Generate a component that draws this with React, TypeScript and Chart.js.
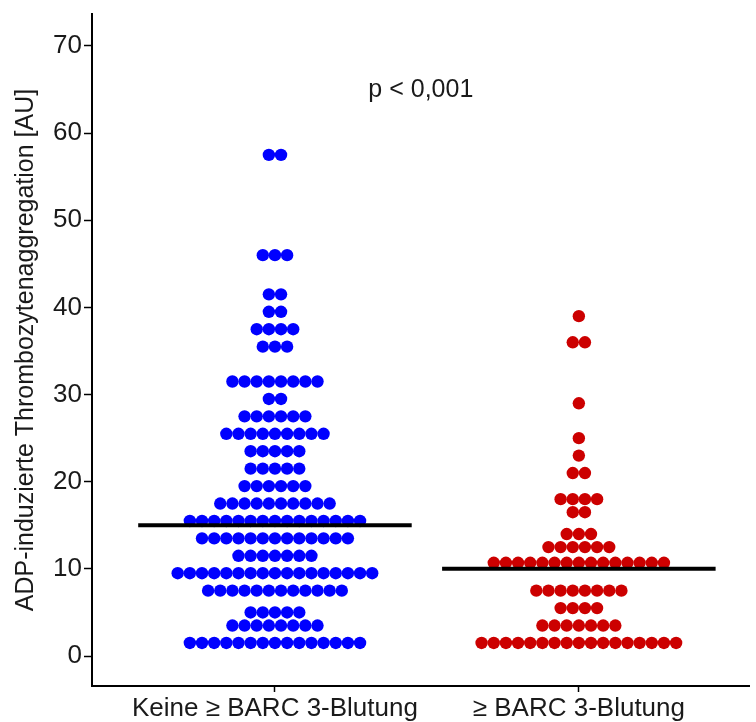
import React, { useEffect, useRef } from "react";
import { Chart, registerables } from "chart.js";

Chart.register(...registerables);

// ---- data ----
const categories = ["Keine ≥ BARC 3-Blutung", "≥ BARC 3-Blutung"];

const blueLevels = [57.5, 46, 41.5, 39.5, 37.5, 35.5, 31.5, 29.5, 27.5, 25.5, 23.5, 21.5, 19.5, 17.5, 15.5, 13.5, 11.5, 9.5, 7.5, 5, 3.5, 1.5];
const blueCounts = [2, 3, 2, 2, 4, 3, 8, 2, 6, 9, 5, 5, 6, 10, 15, 13, 7, 17, 12, 5, 8, 15];

const redLevels = [39, 36, 29, 25, 23, 21, 18, 16.5, 14, 12.5, 10.7, 7.5, 5.5, 3.5, 1.5];
const redCounts = [1, 2, 1, 1, 1, 2, 4, 2, 3, 6, 15, 8, 4, 7, 17];

const medians = [15, 10];
const yTicks = [0, 10, 20, 30, 40, 50, 60, 70];
const pLabel = "p < 0,001";

// ---- layout / style constants ----
const DOT_STEP = 0.04; // horizontal spacing between swarm dots (x units)
const MEDIAN_HALF = 0.45;
const P_X = 1.48;
const P_Y = 64.9;
const FONT = '"Liberation Sans", Arial, Helvetica, sans-serif';
const TEXT = "#1a1a1a";

function swarm(levels: number[], counts: number[], center: number) {
  const pts: { x: number; y: number }[] = [];
  levels.forEach((lv, i) => {
    const n = counts[i];
    for (let j = 0; j < n; j++) {
      pts.push({ x: center + (j - (n - 1) / 2) * DOT_STEP, y: lv });
    }
  });
  return pts;
}

const pValuePlugin = {
  id: "pValueText",
  afterDraw(chart: any) {
    const { ctx, scales } = chart;
    ctx.save();
    ctx.font = `25px ${FONT}`;
    ctx.fillStyle = TEXT;
    ctx.textAlign = "center";
    ctx.textBaseline = "middle";
    ctx.fillText(pLabel, scales.x.getPixelForValue(P_X), scales.y.getPixelForValue(P_Y));
    ctx.restore();
  },
};

export default function App() {
  const ref = useRef<HTMLCanvasElement>(null);

  useEffect(() => {
    document.body.style.margin = "0";
    if (!ref.current) return;
    const chart = new Chart(ref.current, {
      type: "scatter",
      data: {
        datasets: [
          ...medians.map((m, i) => ({
            type: "line" as const,
            data: [
              { x: i + 1 - MEDIAN_HALF, y: m },
              { x: i + 1 + MEDIAN_HALF, y: m },
            ],
            borderColor: "#000",
            borderWidth: 4,
            pointRadius: 0,
            fill: false,
          })),
          {
            data: swarm(blueLevels, blueCounts, 1),
            backgroundColor: "#0000ff",
            borderWidth: 0,
            pointRadius: 6.2,
          },
          {
            data: swarm(redLevels, redCounts, 2),
            backgroundColor: "#cc0000",
            borderWidth: 0,
            pointRadius: 6.2,
          },
        ] as any,
      },
      options: {
        animation: false,
        responsive: false,
        events: [],
        layout: { padding: { top: 14, right: 6, bottom: 0, left: 0 } },
        plugins: { legend: { display: false }, tooltip: { enabled: false } },
        scales: {
          x: {
            type: "linear",
            min: 0.398,
            max: 2.5625,
            afterBuildTicks: (s: any) => {
              s.ticks = [{ value: 1 }, { value: 2 }];
            },
            afterFit: (s: any) => {
              s.height = 36;
              s.paddingLeft = 0;
              s.paddingRight = 0;
            },
            ticks: {
              callback: (v: any) => categories[Number(v) - 1] ?? "",
              font: { size: 26, family: FONT },
              color: TEXT,
              padding: 1,
              maxRotation: 0,
              autoSkip: false,
            },
            grid: {
              display: true,
              drawOnChartArea: false,
              drawTicks: true,
              tickLength: 6,
              tickWidth: 1.5,
              tickColor: "#000",
            },
            border: { display: true, color: "#000", width: 2 },
          },
          y: {
            type: "linear",
            min: -3.44,
            max: 73.67,
            afterBuildTicks: (s: any) => {
              s.ticks = yTicks.map((v) => ({ value: v }));
            },
            afterFit: (s: any) => {
              s.width = 92;
              s.paddingTop = 0;
              s.paddingBottom = 0;
            },
            ticks: {
              font: { size: 26, family: FONT },
              color: TEXT,
              padding: 2,
            },
            grid: {
              display: true,
              drawOnChartArea: false,
              drawTicks: true,
              tickLength: 8,
              tickWidth: 1.5,
              tickColor: "#000",
            },
            border: { display: true, color: "#000", width: 2 },
            title: {
              display: true,
              text: "ADP-induzierte Thrombozytenaggregation [AU]",
              font: { size: 25, family: FONT },
              color: TEXT,
              padding: { top: 11, bottom: 0 },
            },
          },
        },
      } as any,
      plugins: [pValuePlugin],
    });
    return () => chart.destroy();
  }, []);

  return (
    <div style={{ width: 756, height: 722 }}>
      <canvas ref={ref} width={756} height={722} style={{ display: "block" }} />
    </div>
  );
}
